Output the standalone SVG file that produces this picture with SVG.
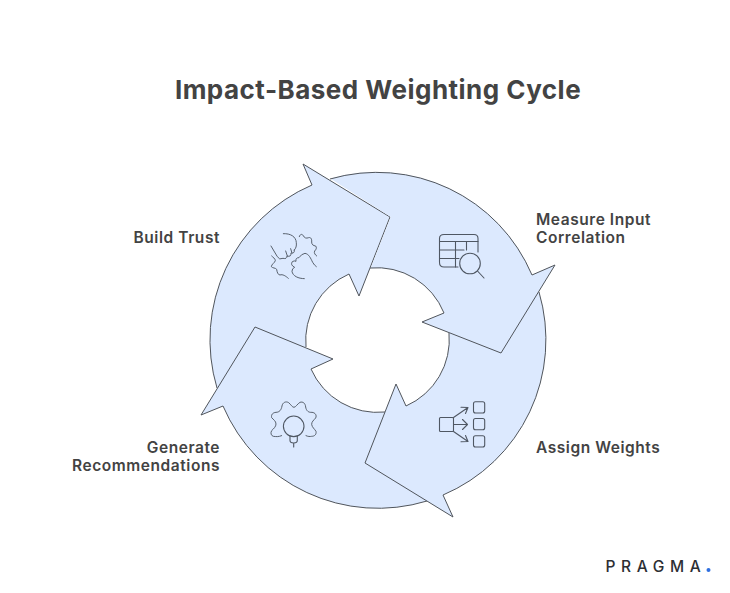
<svg xmlns="http://www.w3.org/2000/svg" width="730" height="593" viewBox="0 0 730 593">
<style>
.seg{fill:#dce9fe;stroke:#50555c;stroke-width:1;stroke-linejoin:miter}
.ic{fill:none;stroke:#4f5763;stroke-width:1.1;stroke-linecap:round;stroke-linejoin:round}
.t{font-family:"Inter","Liberation Sans",sans-serif;fill:#434343}
.l{font-size:15.5px;font-weight:600;letter-spacing:.55px}
.e{text-anchor:end}
</style>
<rect width="730" height="593" fill="#ffffff"/>
<text id="title" class="t" x="378" y="99" text-anchor="middle" font-size="26" font-weight="700" letter-spacing=".48">Impact-Based Weighting Cycle</text>
<g id="connectors"></g>
<g id="node-build-trust">
<path class="seg" d="M217 388A168.500 168.500 0 0 1 312 185L303 164L390 217L359 296L349 274A72.500 72.500 0 0 0 306 347"/>
<g class="ic" transform="translate(200 150) scale(.3333)" style="stroke-width:2.800">
<path d="M250 251C272 250 288 260 289 278C290 288 288 295 283 300M283 300Q285 311 273 309Q274 322 261 318Q261 328 249 325Q238 331 232 320L213 288M272 296L276 309M257 303L262 318"/>
<path d="M313 386C295 386 278 378 276 364Q276 355 284 352Q270 345 277 335Q283 331 288 334Q286 323 297 323Q304 312 315 310C327 312 332 325 338 337Q343 346 349 350"/>
<path d="M298 260C300 252 306 251 310 257C313 264 319 266 326 263C333 261 336 268 335 276C335 284 340 287 347 288C351 293 349 298 344 303C341 309 346 315 350 318"/>
<path d="M215 318C219 322 226 326 226 332C224 339 215 342 214 350C218 355 226 353 230 358C231 366 234 375 240 375C248 372 257 378 265 385"/>
</g>
</g>
<g id="node-generate">
<path class="seg" d="M427 501A168.500 168.500 0 0 1 223 406L201 415L255 327L333 359L311 369A72.500 72.500 0 0 0 385 412"/>
<g class="ic">
<circle cx="293.700" cy="426.300" r="10.300"/>
<path d="M290 436V440.500Q290 443 293.700 443Q297.300 443 297.300 440.500V436M293.700 443V447"/>
</g>
<g class="ic" transform="translate(190 320) scale(.3333)" style="stroke-width:2.800">
<path d="M275 347C265 351 258 350 250 349C243 347 241 339 245 332C251 326 258 320 258 312C258 303 250 299 245 293C243 284 248 278 258 277C268 277 274 270 276 258C278 247 288 243 296 248C303 254 307 262 312 262C318 261 322 252 330 247C339 244 346 250 347 261C349 273 356 278 366 277C376 278 381 286 377 294C371 301 365 305 365 313C366 322 374 327 378 334C380 343 374 349 365 349C360 350 354 350 348 347"/>
</g>
</g>
<g id="node-assign-weights">
<path class="seg" d="M539 292A168.500 168.500 0 0 1 443 495L453 517L365 463L396 384L406 406A72.500 72.500 0 0 0 449 333"/>
<g class="ic">
<rect x="439.500" y="417.500" width="14" height="14" rx="1"/>
<rect x="473.500" y="401.700" width="11.200" height="11.300" rx="2"/>
<rect x="473.500" y="418.500" width="11.200" height="11.300" rx="2"/>
<rect x="473.500" y="435.700" width="11.200" height="11.300" rx="2"/>
<path d="M453.500 417.500L468 407.500M461 407.300L468 407.500L465.500 413.500"/>
<path d="M453.500 424.500H467.500M462.500 419.500L467.500 424.500L462.500 429.500"/>
<path d="M453.500 431.500L468 441.500M461 441.700L468 441.500L465.500 435.500"/>
</g>
</g>
<g id="node-measure-input">
<path fill="#dce9fe" d="M330.300 178.500A168.500 168.500 0 0 1 532 275L555 265L501 353L422 322L444 313A72.500 72.500 0 0 0 370.600 268.200L390.700 216.900Z"/>
<path fill="none" stroke="#50555c" d="M330 179A168.500 168.500 0 0 1 532 275L555 265L501 353L422 322L444 313A72.500 72.500 0 0 0 370 268"/>
<g class="ic">
<path d="M458 267H444Q439.500 267 439.500 262.500V238.500Q439.500 234.500 444 234.500H474Q478 234.500 478 238.500V252"/>
<path d="M439.500 241.500H478M439.500 250H464M439.500 258.500H459M455.500 241.500V267M466.500 241.500V250"/>
<circle cx="470" cy="263.500" r="10.300"/>
<path d="M477.500 271L484 278"/>
</g>
</g>
<text class="t l e" x="220" y="243">Build Trust</text>
<text class="t l" x="536" y="225">Measure Input</text>
<text class="t l" x="536" y="243">Correlation</text>
<text class="t l" x="536" y="453">Assign Weights</text>
<text class="t l e" x="220" y="453">Generate</text>
<text class="t l e" x="220" y="471">Recommendations</text>
<g id="logo">
<text x="605.500" y="572" font-family="Inter,'Liberation Sans',sans-serif" font-size="15.500" font-weight="500" letter-spacing="5.600" fill="#2c2e33">PRAGMA</text>
<circle cx="708.500" cy="570" r="2" fill="#2f6fe0"/>
</g>
</svg>
